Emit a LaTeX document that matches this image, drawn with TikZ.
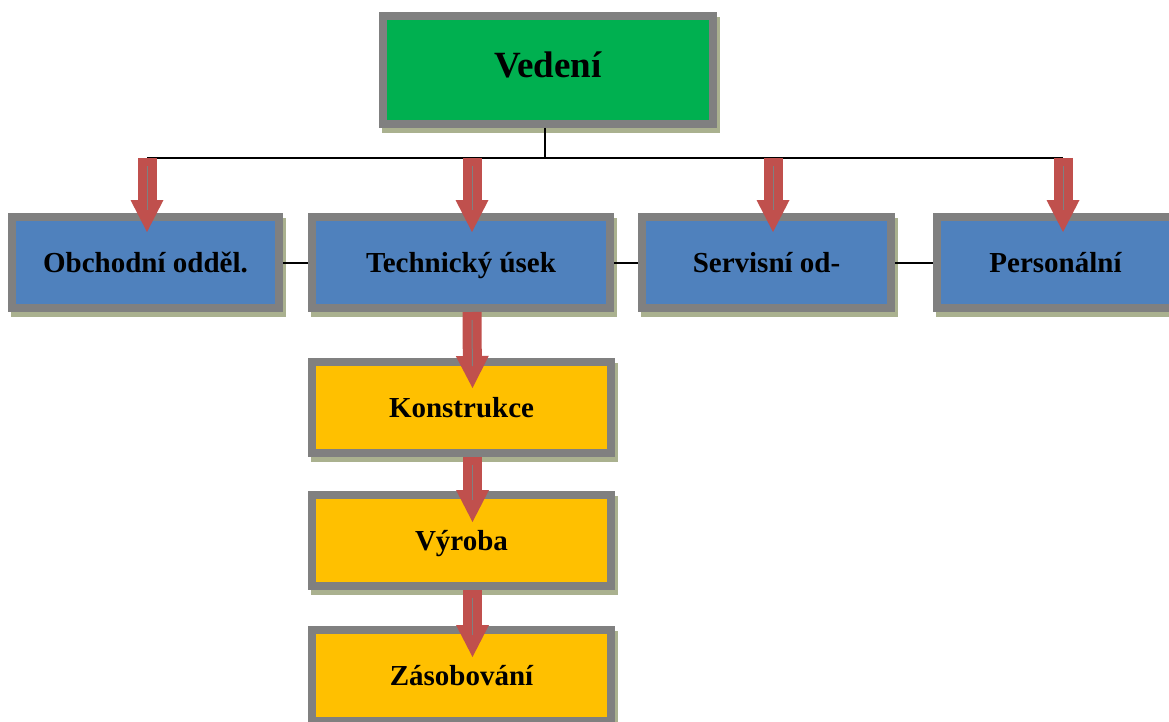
\documentclass[tikz,border=0pt]{standalone}
\usepackage{fontspec}
\setmainfont{Liberation Serif}
\usepackage{tikz}
\usetikzlibrary{arrows.meta}
\usetikzlibrary{shadows}
\usetikzlibrary{calc}
\usetikzlibrary{positioning}

\definecolor{frame}{RGB}{128,128,128}
\definecolor{shadowc}{RGB}{170,177,143}
\definecolor{topgreen}{RGB}{0,176,80}
\definecolor{deptblue}{RGB}{79,129,189}
\definecolor{subyellow}{RGB}{255,192,0}
\definecolor{arrowred}{RGB}{192,80,77}

\tikzset{
	unit/.style={draw=frame, line width=8pt, inner sep=0pt, minimum height=91pt,
		font=\bfseries\fontsize{29}{34}\selectfont, text height=20pt, text depth=0pt,
		drop shadow={shadow xshift=3pt, shadow yshift=-5pt, fill=shadowc, draw=shadowc, opacity=1}},
	down/.style={draw=arrowred, line width=19pt,
		-{Triangle[width=33pt, length=32pt, line width=0pt]},
		postaction={draw=frame, line width=1pt, -, shorten <=8pt, shorten >=22pt}},
	link/.style={draw=black, line width=2pt}
}

\begin{document}
\begin{tikzpicture}[x=1pt, y=-1pt]
		\useasboundingbox (0,0) rectangle (1169,722);
		\clip (0,0) rectangle (1169,722);
		\begin{scope}[every node/.style = {unit}]
			\node[fill=topgreen, minimum width=330pt, minimum height=108pt,
				font=\bfseries\fontsize{37}{42}\selectfont, text height=26pt, text depth=11pt] (ved) at (548,70) {Vedení};
			\node[fill=deptblue, minimum width=267pt] (obch) at (145.5,262.5) {Obchodní odděl.};
			\node[fill=deptblue, minimum width=298pt] (tech) at (461,262.5) {Technický úsek};
			\node[fill=deptblue, minimum width=249pt] (serv) at (766.5,262.5) {Servisní od-};
			\node[fill=deptblue, minimum width=237pt] (pers) at (1055.5,262.5) {Personální};
			\node[fill=subyellow, minimum width=299pt] (kon) at (461.5,407.5) {Konstrukce};
			\node[fill=subyellow, minimum width=299pt] (vyr) at (461.5,540.5) {Výroba};
			\node[fill=subyellow, minimum width=299pt] (zas) at (461.5,675.5) {Zásobování};
		\end{scope}

		% rozvodna linka pod vedenim
		\coordinate (b1) at (147,158);
		\coordinate (b2) at (472,158);
		\coordinate (b3) at (773,158);
		\coordinate (b4) at (1063,158);
		\draw[link] (b1) -- (b4);
		\draw[link] ([xshift=-3pt]ved.south) -- ([xshift=-3pt]ved.south |- b1);

		\draw[link] (obch) -- (tech);
		\draw[link] (tech) -- (serv);
		\draw[link] (serv) -- (pers);

		\draw[down] (b1) -- ($(obch.north -| b1)+(0,19)$);
		\draw[down] (b2) -- ($(tech.north -| b2)+(0,19)$);
		\draw[down] (b3) -- ($(serv.north -| b3)+(0,19)$);
		\draw[down] (b4) -- ($(pers.north -| b4)+(0,19)$);

		\draw[down] ($(tech.south)+(11,0)$) -- ($(kon.north)+(11,30)$);
		\draw[down] ($(kon.south)+(11,0)$) -- ($(vyr.north)+(11,31)$);
		\draw[down] ($(vyr.south)+(11,0)$) -- ($(zas.north)+(11,31)$);
	\end{tikzpicture}
\end{document}
